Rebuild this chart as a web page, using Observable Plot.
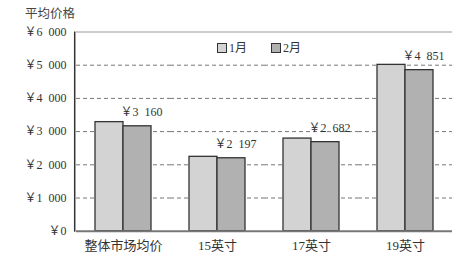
<!DOCTYPE html>
<html><head><meta charset="utf-8">
<script src="https://cdn.jsdelivr.net/npm/d3@7"></script>
<script src="https://cdn.jsdelivr.net/npm/@observablehq/plot@0.6"></script>
<style>
body{margin:0;background:#fff;font-family:"Liberation Serif","Noto Sans CJK SC",serif;}
#wrap{position:relative;width:464px;height:264px;}
#title{height:22px;box-sizing:border-box;padding-top:8px;padding-left:25px;font-size:12.5px;line-height:1;color:#444;}
#legend{position:absolute;top:42px;left:217px;font-size:12px;color:#333;display:flex;gap:0;line-height:12px;}
#legend span.item{display:flex;align-items:center;margin-right:24px;}
#legend span.sw{display:inline-block;width:8px;height:8px;border:1.3px solid #333;margin-right:2px;}
</style>
</head><body>
<div id="wrap">
<div id="title">平均价格</div>
<div id="legend"></div>
<div id="chart"></div>
</div>
<script>
const categories = ["整体市场均价", "15英寸", "17英寸", "19英寸"];
const months = ["1月", "2月"];
const jan = [3285, 2240, 2790, 5010];
const feb = [3160, 2197, 2682, 4851];
const yTicks = [0, 1000, 2000, 3000, 4000, 5000, 6000];
const yTickLabels = ["￥0", "￥1\u2002000", "￥2\u2002000", "￥3\u2002000", "￥4\u2002000", "￥5\u2002000", "￥6\u2002000"];
const febLabels = ["￥3\u2002160", "￥2\u2002197", "￥2\u2002682", "￥4\u2002851"];
const colors = ["#d3d3d3", "#b1b1b1"];

const data = [];
categories.forEach((c, i) => {
  data.push({category: c, month: months[0], value: jan[i]});
  data.push({category: c, month: months[1], value: feb[i]});
});
const labels = categories.map((c, i) => ({category: c, month: months[1], value: feb[i], label: febLabels[i]}));
const fmt = d => yTickLabels[yTicks.indexOf(d)];

const chart = Plot.plot({
  width: 464,
  height: 242,
  marginLeft: 75,
  marginRight: 12,
  marginTop: 9.5,
  marginBottom: 33.3,
  style: {fontFamily: '"Liberation Serif","Noto Sans CJK SC",serif', fontSize: "12px", color: "#333", background: "#fff"},
  fx: {domain: categories, paddingInner: 0, paddingOuter: 0, label: null, axis: null},
  x: {domain: months, paddingInner: 0, paddingOuter: 0.64, axis: null},
  y: {domain: [0, 6000], axis: null},
  color: {domain: months, range: colors},
  marks: [
    Plot.ruleY(yTicks.slice(1, -1), {stroke: "#777", strokeDasharray: "4,3", strokeWidth: 1}),
    Plot.ruleY([6000], {stroke: "#bbb", strokeWidth: 1.5}),
    Plot.barY(data, {fx: "category", x: "month", y: "value", fill: "month", stroke: "#333", strokeWidth: 1.3}),
    Plot.ruleY([0], {stroke: "#777", strokeWidth: 2}),
    Plot.text(labels, {fx: "category", x: "month", y: "value", text: "label", dy: -14, dx: 4, fontSize: 12, fill: "#333"}),
    Plot.axisY({anchor: "left", ticks: yTicks, tickFormat: fmt, tickSize: 0, tickPadding: 10, fontSize: 12, label: null}),
    Plot.axisFx({anchor: "bottom", tickSize: 0, tickPadding: 10, fontSize: 13, label: null})
  ]
});
document.getElementById("chart").appendChild(chart);

// left axis line drawn from scale
const ys = chart.scale("y");
const svg = d3.select(chart);
svg.append("line")
  .attr("x1", 74.7).attr("x2", 74.7)
  .attr("y1", ys.apply(6000)).attr("y2", ys.apply(0) + 1)
  .attr("stroke", "#333").attr("stroke-width", 1.5);

const legend = d3.select("#legend");
months.forEach((m, i) => {
  const item = legend.append("span").attr("class", "item");
  item.append("span").attr("class", "sw").style("background", colors[i]);
  item.append("span").text(m);
});
</script>
</body></html>
